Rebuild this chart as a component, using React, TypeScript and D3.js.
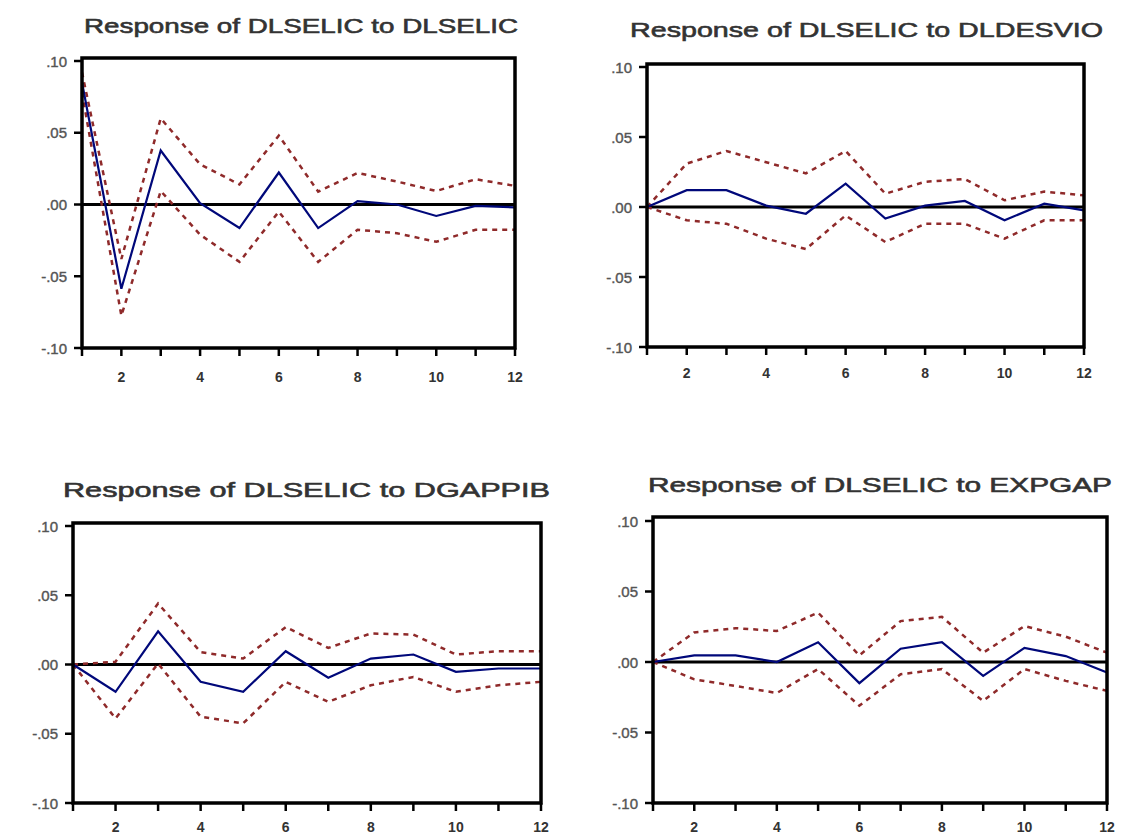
import React from 'react';
import * as d3 from 'd3';

// impulse response horizons and axis labels
const horizons = [1, 2, 3, 4, 5, 6, 7, 8, 9, 10, 11, 12];
const xTickLabels = [2, 4, 6, 8, 10, 12];
const yTickValues = [0.1, 0.05, 0, -0.05, -0.1];
const yTickLabels = ['.10', '.05', '.00', '-.05', '-.10'];

const titles = [
  'Response of DLSELIC to DLSELIC',
  'Response of DLSELIC to DLDESVIO',
  'Response of DLSELIC to DGAPPIB',
  'Response of DLSELIC to EXPGAP',
];

// response of DLSELIC to DLSELIC
const selicResp = [0.085, -0.0587, 0.0376, 0.001, -0.0164, 0.0223, -0.0164, 0.0023, 0.0, -0.008, -0.001, -0.002];
const selicUpper = [0.092, -0.038, 0.06, 0.028, 0.014, 0.048, 0.009, 0.022, 0.016, 0.0094, 0.0176, 0.013];
const selicLower = [0.078, -0.0775, 0.0094, -0.021, -0.04, -0.005, -0.04, -0.0176, -0.02, -0.026, -0.0176, -0.0176];

// response of DLSELIC to DLDESVIO
const desvioResp = [0, 0.012, 0.012, 0.001, -0.0048, 0.0167, -0.0083, 0.001, 0.0043, -0.0095, 0.0024, -0.0024];
const desvioUpper = [0, 0.031, 0.04, 0.032, 0.024, 0.04, 0.0095, 0.018, 0.02, 0.0048, 0.011, 0.0083];
const desvioLower = [0, -0.0095, -0.012, -0.0226, -0.03, -0.006, -0.025, -0.012, -0.012, -0.0226, -0.0095, -0.0095];

// response of DLSELIC to DGAPPIB
const gapResp = [0, -0.0197, 0.024, -0.0125, -0.0197, 0.0096, -0.0096, 0.0043, 0.0072, -0.0053, -0.0029, -0.0029];
const gapUpper = [0, 0.002, 0.044, 0.009, 0.0043, 0.027, 0.012, 0.0224, 0.0216, 0.0072, 0.0096, 0.0096];
const gapLower = [0, -0.039, 0.0007, -0.0377, -0.0425, -0.0125, -0.027, -0.015, -0.009, -0.0197, -0.015, -0.0125];

// response of DLSELIC to EXPGAP
const expResp = [0, 0.0047, 0.0047, 0, 0.014, -0.015, 0.0094, 0.014, -0.0099, 0.01, 0.0042, -0.0075];
const expUpper = [0, 0.021, 0.024, 0.022, 0.035, 0.0047, 0.029, 0.032, 0.0066, 0.0255, 0.018, 0.0066];
const expLower = [0, -0.0123, -0.017, -0.022, -0.005, -0.031, -0.0087, -0.005, -0.0276, -0.005, -0.0134, -0.0205];

const series = [
  { resp: selicResp, upper: selicUpper, lower: selicLower },
  { resp: desvioResp, upper: desvioUpper, lower: desvioLower },
  { resp: gapResp, upper: gapUpper, lower: gapLower },
  { resp: expResp, upper: expUpper, lower: expLower },
];

// pixel boxes of the four panels
const boxes = [
  { left: 82, right: 515, top: 61, bottom: 348, frameTop: 58, titleY: 25, titleX0: 84, titleX1: 518, labelDy: 29 },
  { left: 647, right: 1084, top: 67, bottom: 347, frameTop: 64, titleY: 29, titleX0: 630, titleX1: 1103, labelDy: 26 },
  { left: 73, right: 541, top: 526, bottom: 803, frameTop: 523, titleY: 489, titleX0: 63, titleX1: 550, labelDy: 24 },
  { left: 653, right: 1107, top: 521, bottom: 803, frameTop: 517, titleY: 484, titleX0: 648, titleX1: 1112, labelDy: 24 },
];

const font = 'Arial, "Liberation Sans", sans-serif';

function Panel({ idx }: { idx: number }) {
  const b = boxes[idx];
  const s = series[idx];
  const x = d3.scaleLinear().domain([1, 12]).range([b.left, b.right]);
  const y = d3.scaleLinear().domain([-0.1, 0.1]).range([b.bottom, b.top]);
  const line = d3
    .line<number>()
    .x((_, i) => x(horizons[i]))
    .y((d) => y(d));

  return (
    <g>
      <text
        x={b.titleX0}
        y={b.titleY}
        dominantBaseline="central"
        fontFamily={font}
        fontSize={21}
        fill="#333"
        stroke="#333"
        strokeWidth={0.6}
        textLength={b.titleX1 - b.titleX0}
        lengthAdjust="spacingAndGlyphs"
      >
        {titles[idx]}
      </text>

      <line x1={b.left} x2={b.right} y1={y(0)} y2={y(0)} stroke="#000" strokeWidth={3} />

      <path d={line(s.upper) || ''} fill="none" stroke="#8f2a2a" strokeWidth={2.5} strokeDasharray="5,5" />
      <path d={line(s.lower) || ''} fill="none" stroke="#8f2a2a" strokeWidth={2.5} strokeDasharray="5,5" />
      <path d={line(s.resp) || ''} fill="none" stroke="#00087a" strokeWidth={2.2} />

      <rect
        x={b.left}
        y={b.frameTop}
        width={b.right - b.left}
        height={b.bottom - b.frameTop}
        fill="none"
        stroke="#000"
        strokeWidth={3.5}
      />

      {yTickValues.map((v, i) => (
        <g key={'y' + i}>
          <line x1={b.left - 8} x2={b.left} y1={y(v)} y2={y(v)} stroke="#000" strokeWidth={2.5} />
          <text
            x={b.left - 15}
            y={y(v)}
            textAnchor="end"
            dominantBaseline="central"
            fontFamily={font}
            fontSize={15}
            fill="#555"
            stroke="#555"
            strokeWidth={0.4}
          >
            {yTickLabels[i]}
          </text>
        </g>
      ))}

      {horizons.map((h) => (
        <line key={'x' + h} x1={x(h)} x2={x(h)} y1={b.bottom} y2={b.bottom + 8} stroke="#000" strokeWidth={2.5} />
      ))}
      {xTickLabels.map((h) => (
        <text
          key={'xl' + h}
          x={x(h)}
          y={b.bottom + b.labelDy}
          textAnchor="middle"
          dominantBaseline="central"
          fontFamily={font}
          fontSize={14}
          fontWeight="bold"
          fill="#333"
        >
          {h}
        </text>
      ))}
    </g>
  );
}

export default function App() {
  return (
    <svg
      width={1123}
      height={836}
      style={{ position: 'absolute', left: 0, top: 0, background: '#fff' }}
    >
      <rect width={1123} height={836} fill="#fff" />
      {series.map((_, i) => (
        <Panel key={i} idx={i} />
      ))}
    </svg>
  );
}
